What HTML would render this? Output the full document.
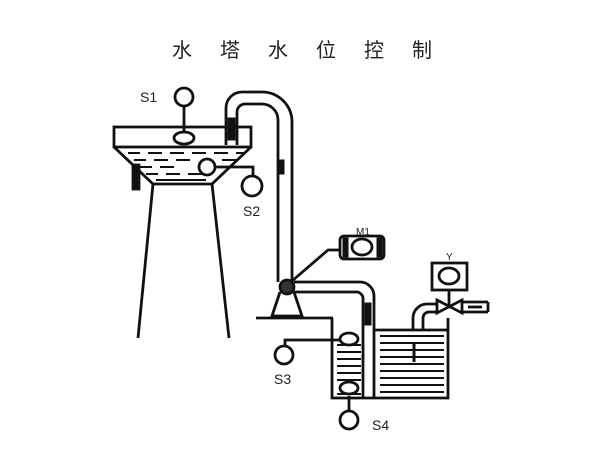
<!DOCTYPE html>
<html><head><meta charset="utf-8"><style>
html,body{margin:0;padding:0;background:#fff;}
svg{display:block}
text{font-family:"Liberation Sans","Noto Sans CJK SC",sans-serif;fill:#222}
</style></head><body>
<svg width="600" height="458" viewBox="0 0 600 458" xmlns="http://www.w3.org/2000/svg">
<rect width="600" height="458" fill="#fff"/>
<text x="172" y="57" font-size="20" letter-spacing="28">水塔水位控制</text>
<g stroke="#111" stroke-width="2.8" fill="none">
<rect x="114" y="127" width="137" height="20"/>
<path d="M114 147 L153 184 L212 184 L251 147"/>
<line x1="153" y1="184" x2="138" y2="338"/>
<line x1="212" y1="184" x2="229" y2="338"/>
<g stroke-width="2">
<path d="M128 153h12M148 153h14M170 153h14M192 153h14M214 153h14M236 153h8"/>
<path d="M134 160h12M154 160h14M176 160h14M222 160h14"/>
<path d="M140 167h12M160 167h14M218 167h10"/>
<path d="M146 174h12M166 174h14M188 174h14"/>
<path d="M156 180h50"/>
</g>
<rect x="133" y="165" width="6" height="24" fill="#111"/>
<circle cx="184" cy="97" r="9" fill="#fff"/>
<line x1="184" y1="106" x2="184" y2="131"/>
<ellipse cx="184" cy="138" rx="10" ry="6" fill="#fff"/>
<circle cx="207" cy="167" r="8" fill="#fff"/>
<path d="M215 167 H253 V178"/>
<circle cx="252" cy="186" r="10" fill="#fff"/>
<path d="M226 145 V108 A16 16 0 0 1 242 92 H262 A30 30 0 0 1 292 122 V282"/>
<path d="M237 145 V112 A8 8 0 0 1 245 104 H262 A16 16 0 0 1 278 120 V282"/>
<rect x="228" y="118" width="7" height="22" fill="#111" stroke-width="1"/>
<rect x="279" y="160" width="5" height="14" fill="#111" stroke-width="1"/>
<circle cx="287" cy="287" r="7" fill="#333"/>
<path d="M280 292 L272 316 L302 316 L294 292"/>
<line x1="256" y1="318" x2="333" y2="318"/>
<path d="M294 282 H360 A14 14 0 0 1 374 296 V397"/>
<path d="M294 292 H355 A7 7 0 0 1 363 300 V397"/>
<rect x="365" y="303" width="6" height="22" fill="#111" stroke-width="1"/>
<path d="M292 281 L328 250 H340"/>
<rect x="340" y="236" width="44" height="23" rx="4"/>
<ellipse cx="362" cy="247" rx="10" ry="8" fill="#fff"/>
<rect x="343" y="238" width="5" height="19" fill="#111" stroke-width="1"/>
<rect x="377" y="238" width="5" height="19" fill="#111" stroke-width="1"/>
<path d="M332 318 V398 H448 V318"/>
<line x1="375" y1="330" x2="448" y2="330"/>
<g stroke-width="2">
<path d="M337 345h24M337 352h24M337 359h24M337 366h24M337 373h24M337 380h24M337 394h24"/>
<path d="M380 336h64M380 343h64M380 350h64M380 357h64M380 364h64M380 371h64M380 378h64M380 385h64M380 392h64"/>
</g>
<line x1="414" y1="342" x2="414" y2="362" stroke-width="3"/>
<ellipse cx="349" cy="339" rx="9" ry="6" fill="#fff"/>
<path d="M340 340 H285 V348"/>
<circle cx="284" cy="355" r="9" fill="#fff"/>
<ellipse cx="349" cy="388" rx="9" ry="6" fill="#fff"/>
<line x1="349" y1="396" x2="349" y2="412"/>
<circle cx="349" cy="420" r="9" fill="#fff"/>
<rect x="432" y="263" width="35" height="27"/>
<ellipse cx="449" cy="276" rx="10" ry="8" fill="#fff"/>
<line x1="449" y1="290" x2="449" y2="306"/>
<path d="M437 300 L462 313 V300 L437 313 Z"/>
<path d="M413 330 V318 A14 14 0 0 1 427 304 H437"/>
<path d="M423 330 V318 A6 6 0 0 1 429 312 H437"/>
<path d="M462 302 H488 M462 312 H488 M488 302 V312"/>
<path d="M468 307 h14"/>
</g>
<g font-size="14">
<text x="140" y="102">S1</text>
<text x="243" y="216">S2</text>
<text x="274" y="384">S3</text>
<text x="372" y="430">S4</text>
<text x="356" y="235" font-size="10">M1</text>
<text x="446" y="260" font-size="10">Y</text>
</g>
</svg>
</body></html>
